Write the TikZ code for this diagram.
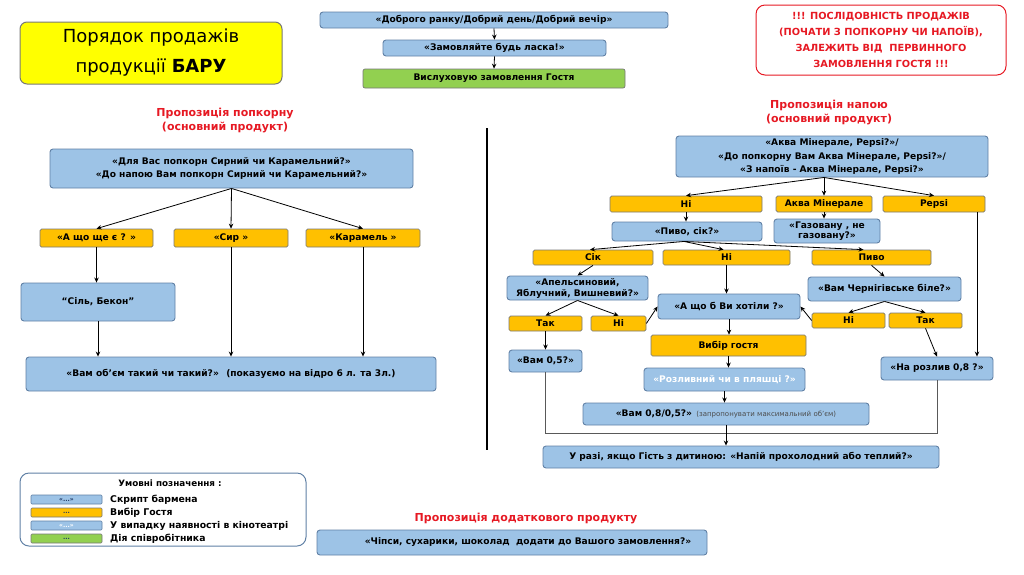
\documentclass[tikz,border=0pt]{standalone}
\usepackage{fontspec}
\setmainfont{DejaVu Sans}
\usetikzlibrary{arrows.meta,calc}
\definecolor{bfill}{RGB}{157,195,230}
\definecolor{bedge}{RGB}{96,128,165}
\definecolor{ofill}{RGB}{255,192,0}
\definecolor{oedge}{RGB}{120,120,120}
\definecolor{gfill}{RGB}{146,208,80}
\definecolor{yfill}{RGB}{255,255,0}
\definecolor{redc}{RGB}{230,25,35}
\definecolor{navy}{RGB}{31,56,100}
\newcommand\fb{\fontsize{9.1}{10.5}\selectfont\bfseries}
\newcommand\fsmall{\fontsize{7}{8}\selectfont\mdseries}
\newcommand\B[7]{\node[#2, minimum width={#5pt-#3pt}, minimum height={#6pt-#4pt}] (#1) at ({(#3+#5)/2},{(#4+#6)/2}) {#7};}
\tikzset{
 base/.style={inner sep=0pt, align=center, font=\fb, line width=0.9pt},
 sb/.style={base, fill=bfill, draw=bedge, rounded corners=3pt},
 cin/.style={sb, text=white},
 ch/.style={base, fill=ofill, draw=oedge, rounded corners=1.5pt, line width=0.7pt},
 act/.style={base, fill=gfill, draw=oedge, rounded corners=2pt, line width=0.7pt},
 arr/.style={-{Stealth[length=5pt,width=4.5pt]}, line width=0.8pt, black},
 gl/.style={line width=0.9pt, draw=black!65},
 head/.style={font=\fontsize{11}{14}\selectfont\bfseries, text=redc, align=center},
 legsw/.style={base, font=\fontsize{6}{7}\selectfont\bfseries, rounded corners=1pt, line width=0.6pt},
 legtx/.style={anchor=west, font=\fontsize{9.3}{10}\selectfont\bfseries, inner sep=0pt},
}
\begin{document}
\begin{tikzpicture}[x=1pt,y=-1pt]
\useasboundingbox (0,0) rectangle (1024,574);
% title
\B{title}{base, fill=yfill, draw=oedge, rounded corners=7pt, line width=1pt, font=\fontsize{18}{30}\selectfont\mdseries}{20}{22}{282}{84}{Порядок продажів\\продукції \textbf{БАРУ}}
% top flow
\B{greet}{sb}{320}{12}{668}{28}{«Доброго ранку/Добрий день/Добрий вечір»}
\B{order}{sb}{383}{40}{606}{56}{«Замовляйте будь ласка!»}
\B{listen}{act}{363}{69}{625}{88}{Вислуховую замовлення Гостя}
\draw[arr] (greet.south) -- (order.north);
\draw[arr] (order.south) -- (listen.north);
% red box
\B{warn}{base, draw=redc, rounded corners=9pt, line width=1pt, text=redc, font=\fontsize{9.8}{16}\selectfont\bfseries}{756}{5}{1006}{75}{!!! ПОСЛІДОВНІСТЬ ПРОДАЖІВ\\(ПОЧАТИ З ПОПКОРНУ ЧИ НАПОЇВ),\\ЗАЛЕЖИТЬ ВІД \ ПЕРВИННОГО\\ЗАМОВЛЕННЯ ГОСТЯ !!!}
% headings
\node[head] (hpop) at (225,121) {Пропозиція попкорну\\(основний продукт)};
\node[head] (hdrink) at (829,113) {Пропозиція напою\\(основний продукт)};
% divider
\coordinate (dv1) at (487,128);
\coordinate (dv2) at (487,450);
\draw[line width=2.6pt] (dv1) -- (dv2);
% left side
\B{pop}{sb, font=\fontsize{9.1}{13.5}\selectfont\bfseries}{50}{149}{413}{188}{«Для Вас попкорн Сирний чи Карамельний?»\\«До напою Вам попкорн Сирний чи Карамельний?»}
\B{ask}{ch}{40}{229}{153}{247}{«А що ще є ? »}
\B{cheese}{ch}{174}{229}{288}{247}{«Сир »}
\B{caramel}{ch}{306}{229}{420}{247}{«Карамель »}
\B{salt}{sb}{21}{283}{175}{321}{“Сіль, Бекон”}
\B{volume}{sb}{26}{357}{436}{391}{«Вам об’єм такий чи такий?» \ (показуємо на відро 6 л. та 3л.)}
\draw[arr] (pop.south) -- (ask.north);
\draw[arr] (pop.south) -- (cheese.north);
\draw[arr] (pop.south) -- (caramel.north);
\draw[arr] (ask.south) -- (ask.south |- salt.north);
\draw[arr] (salt.south) -- (salt.south |- volume.north);
\draw[arr] (cheese.south) -- (cheese.south |- volume.north);
\draw[arr] (caramel.south) -- (caramel.south |- volume.north);
% right side
\B{drink}{sb, font=\fontsize{9.1}{13.5}\selectfont\bfseries}{676}{136}{988}{177}{«Аква Мінерале, Pepsi?»/\\«До попкорну Вам Аква Мінерале, Pepsi?»/\\«З напоїв - Аква Мінерале, Pepsi?»}
\B{no1}{ch}{610}{196}{762}{212}{Ні}
\B{aqua}{ch}{776}{196}{872}{212}{Аква Мінерале}
\B{pepsi}{ch}{883}{196}{985}{212}{Pepsi}
\B{juiceq}{sb}{612}{222}{762}{241}{«Пиво, сік?»}
\B{gaz}{sb, font=\fontsize{9.1}{10}\selectfont\bfseries}{774}{219}{880}{243}{«Газовану , не\\газовану?»}
\B{juice}{ch}{533}{250}{653}{265}{Сік}
\B{no2}{ch}{663}{250}{790}{265}{Ні}
\B{beer}{ch}{812}{250}{931}{265}{Пиво}
\B{juicekinds}{sb, font=\fontsize{9.1}{11}\selectfont\bfseries}{507}{276}{648}{300}{«Апельсиновий,\\Яблучний, Вишневий?»}
\B{whatwant}{sb}{658}{294}{800}{319}{«А що б Ви хотіли ?»}
\B{chern}{sb}{808}{277}{961}{301}{«Вам Чернігівське біле?»}
\B{tak1}{ch}{509}{316}{582}{331}{Так}
\B{ni3}{ch}{591}{316}{646}{331}{Ні}
\B{ni4}{ch}{812}{313}{885}{328}{Ні}
\B{tak2}{ch}{889}{313}{962}{328}{Так}
\B{vam05}{sb}{509}{350}{582}{372}{«Вам 0,5?»}
\B{choice}{ch}{651}{335}{806}{356}{Вибір гостя}
\B{draft}{cin}{644}{368}{805}{391}{«Розливний чи в пляшці ?»}
\B{vam08}{sb}{583}{403}{869}{425}{«Вам 0,8/0,5?» {\fsmall\color{black!70}(запропонувати максимальний об’єм)}}
\B{narozliv}{sb}{881}{357}{993}{380}{«На розлив 0,8 ?»}
\B{final}{sb}{543}{446}{939}{468}{У разі, якщо Гість з дитиною: «Напій прохолодний або теплий?»}
% right connectors
\coordinate (dk) at (aqua.north |- drink.south);
\draw[arr] (dk) -- (no1.north);
\draw[arr] (dk) -- (aqua.north);
\draw[arr] (dk) -- (pepsi.north);
\draw[arr] (no1.south) -- (no1.south |- juiceq.north);
\draw[arr] (aqua.south) -- (aqua.south |- gaz.north);
\coordinate (jq) at ($(juiceq.south)+(-3,0)$);
\draw[arr] (jq) -- ($(juice.north)+(-3,0)$);
\draw[arr] (jq) -- ($(no2.north)+(-3,0)$);
\draw[arr] (jq) -- ($(beer.north)+(-8,0)$);
\draw[arr] (juice.south) -- (juicekinds.north);
\draw[arr] (no2.south) -- (no2.south |- whatwant.north);
\draw[arr] (beer.south) -- (chern.north);
\draw[arr] (juicekinds.south) -- (tak1.north);
\draw[arr] (juicekinds.south) -- (ni3.north);
\draw[arr] (ni3.east) -- (whatwant.west);
\draw[arr] (chern.south) -- (ni4.north);
\draw[arr] (chern.south) -- (tak2.north);
\draw[arr] (ni4.west) -- (whatwant.east);
\draw[arr] (tak1.south) -- (tak1.south |- vam05.north);
\draw[arr] (whatwant.south) -- (whatwant.south |- choice.north);
\draw[arr] (choice.south) -- (choice.south |- draft.north);
\draw[arr] (draft.south) -- (draft.south |- vam08.north);
\draw[arr] (tak2.south) -- (narozliv.north);
\coordinate (pl) at ($(pepsi.south)+(43,0)$);
\draw[arr] (pl) -- (pl |- narozliv.north);
\draw[gl] (vam05.south) -- ++(0,61) -| (narozliv.south);
\draw[arr] (vam08.south) -- (vam08.south |- final.north);
% legend
\B{legend}{base, draw=bedge, fill=white, rounded corners=9pt, line width=1pt}{20}{473}{306}{546}{}
\node[font=\fontsize{8.8}{10}\selectfont\bfseries, inner sep=0pt] (legt) at (170,483) {Умовні позначення :};
\B{s1}{legsw, fill=bfill, draw=bedge, text=navy}{31}{495}{102}{504}{«...»}
\B{s2}{legsw, fill=ofill, draw=oedge, text=navy}{31}{508}{102}{517}{...}
\B{s3}{legsw, fill=bfill, draw=bedge, text=white}{31}{521}{102}{530}{«...»}
\B{s4}{legsw, fill=gfill, draw=oedge, text=navy}{31}{534}{102}{543}{...}
\node[legtx] (l1) at (110,499.5) {Скрипт бармена};
\node[legtx] (l2) at (110,512.5) {Вибір Гостя};
\node[legtx] (l3) at (110,525.5) {У випадку наявності в кінотеатрі};
\node[legtx] (l4) at (110,538.5) {Дія співробітника};
% extra product
\node[head] (hextra) at (526,518) {Пропозиція додаткового продукту};
\B{extra}{sb}{317}{530}{707}{555}{\hspace*{32pt}«Чіпси, сухарики, шоколад \ додати до Вашого замовлення?»}
\end{tikzpicture}
\end{document}
